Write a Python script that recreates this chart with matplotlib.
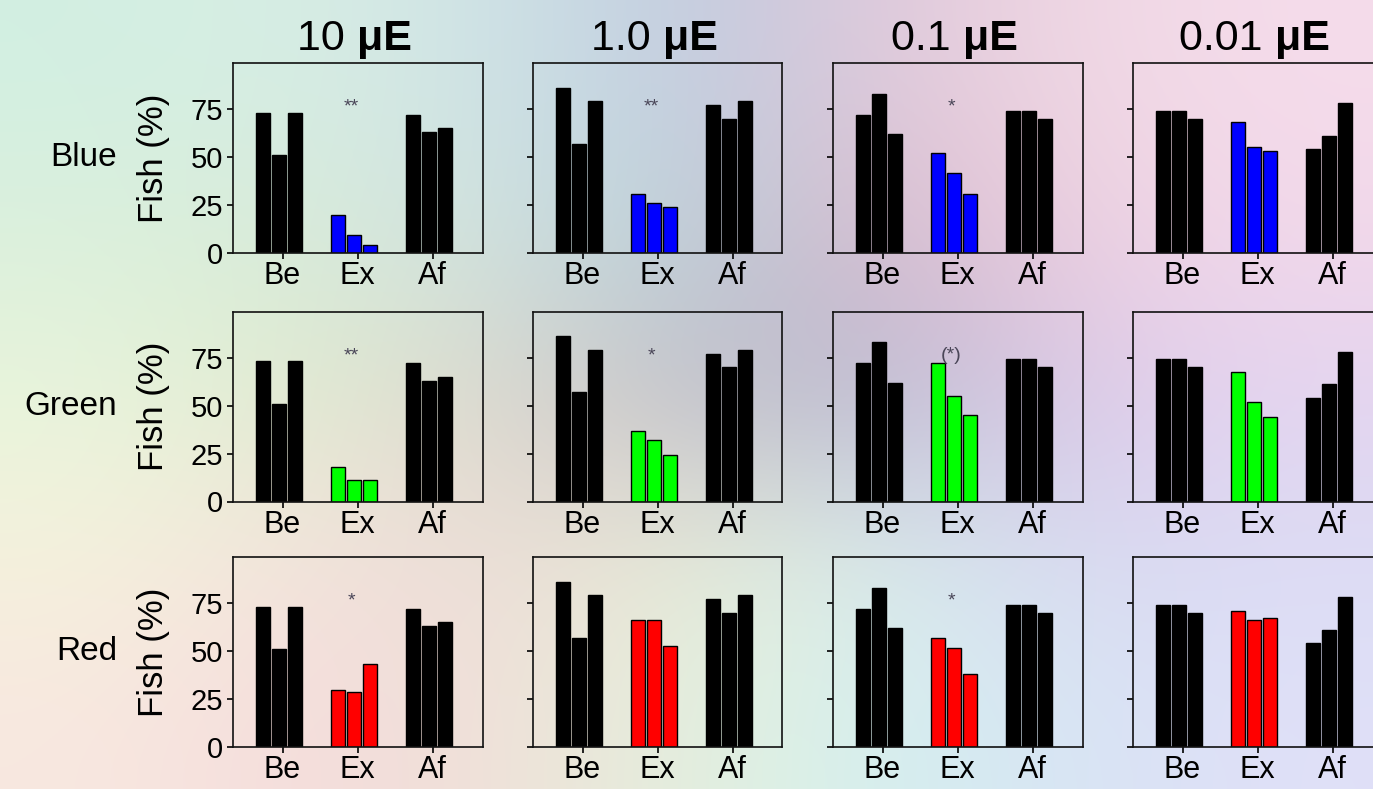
import numpy as np
import matplotlib
matplotlib.use("Agg")
import matplotlib.pyplot as plt
from matplotlib.colors import to_rgb

plt.rcParams['font.family'] = ['Liberation Sans', 'DejaVu Sans']

# Datos
intensidades = ['10', '1.0', '0.1', '0.01']
colores_luz = ['Blue', 'Green', 'Red']
relleno = ['#0000ff', '#00ff00', '#ff0000']
fases = ['Be', 'Ex', 'Af']

antes = [[73, 51, 73], [86, 57, 79], [72, 83, 62], [74, 74, 70]]
despues = [[72, 63, 65], [77, 70, 79], [74, 74, 70], [54, 61, 78]]

expuesto_azul = [[20, 9.5, 4], [31, 26, 24], [52, 41.5, 31], [68, 55, 53]]
expuesto_verde = [[18, 11, 11], [36.5, 32, 24], [72, 55, 45], [67.5, 52, 44]]
expuesto_rojo = [[29.5, 28.5, 43], [66, 66, 52.5], [57, 51.5, 38], [71, 66, 67]]
expuesto = [expuesto_azul, expuesto_verde, expuesto_rojo]

estrellas = [['**', '**', '*', ''],
             ['**', '*', '(*)', ''],
             ['*', '', '*', '']]

# fondo pastel (solo estilo)
fondo = [
    ['#d2efe2', '#d8eee4', '#cfe3e6', '#c0cce0', '#e0c8da', '#f0d8e4', '#f5dceb'],
    ['#dcf0dc', '#d8ebd8', '#d0e2e0', '#b8d0d8', '#d8b8cc', '#ecd0e0', '#f2d8ea'],
    ['#e8f5dc', '#e0ecd0', '#dcd8cc', '#c0bcc8', '#b8b8d0', '#dcc8e8', '#e4d4f0'],
    ['#f5f2dc', '#f4e4dc', '#ecdcd8', '#e8ecd4', '#d8ecec', '#d8d8f0', '#dcdcf4'],
    ['#f8e8e0', '#f5dcdc', '#f0e0d8', '#e4f0dc', '#d4f0f0', '#d8e4f4', '#e0e0f8'],
]

W, H = 1373, 789
fig = plt.figure(figsize=(W / 100, H / 100), dpi=100)

bg = fig.add_axes([0, 0, 1, 1], zorder=-10)
img = np.array([[to_rgb(c) for c in fila] for fila in fondo])
bg.imshow(img, aspect='auto', interpolation='bicubic', extent=[0, 1, 1, 0])
bg.set_xlim(0, 1)
bg.set_ylim(1, 0)
bg.axis('off')

desplaz = np.array([-0.26, -0.047, 0.17])
ancho = 0.185
bases = [253, 501.5, 747]

for r in range(3):
    for c in range(4):
        izq = 232.5 + 300 * c
        ax = fig.add_axes([izq / W, 1 - bases[r] / H, 250 / W, 190 / H])
        ax.set_facecolor('none')
        grupos = [antes[c], expuesto[r][c], despues[c]]
        cols = ['black', relleno[r], 'black']
        for g in range(3):
            ax.bar(g + desplaz, grupos[g], width=ancho, color=cols[g],
                   edgecolor='black', linewidth=1.0)
        ax.set_xlim(-2 / 3, 8 / 3)
        ax.set_ylim(0, 99)
        ax.set_xticks([0, 1, 2])
        ax.set_xticklabels(fases, fontsize=22)
        ax.set_yticks([0, 25, 50, 75])
        for s in ax.spines.values():
            s.set_linewidth(1.2)
            s.set_color('#111111')
        ax.tick_params(axis='y', direction='out', length=4.5, width=1.2, pad=2)
        ax.tick_params(axis='x', direction='out', length=4, width=1.2, pad=2)
        if c == 0:
            ax.set_yticklabels(['0', '25', '50', '75'], fontsize=21)
            ax.set_ylabel('Fish (%)', fontsize=25)
            ax.yaxis.set_label_coords(-0.25, 0.5)
            fig.text(117 / W, 1 - (bases[r] - 95) / H, colores_luz[r],
                     fontsize=24, ha='right', va='center')
        else:
            ax.set_yticklabels([])
        if estrellas[r][c]:
            ax.text(0.92, 76, estrellas[r][c], fontsize=14, color='#4a4658',
                    ha='center', va='center')

# titulos: numero normal + "μE" en negrita, centrados sobre cada columna
fig.canvas.draw()
rend = fig.canvas.get_renderer()
for c in range(4):
    centro = 232.5 + 300 * c + 122
    t1 = fig.text(0, 1 - 50 / H, intensidades[c] + ' ', fontsize=31, ha='left', va='baseline')
    t2 = fig.text(0, 1 - 50 / H, 'μE', fontsize=31, fontweight='bold', ha='left', va='baseline')
    w1 = t1.get_window_extent(rend).width
    w2 = t2.get_window_extent(rend).width
    x0 = centro - (w1 + w2) / 2
    t1.set_x(x0 / W)
    t2.set_x((x0 + w1) / W)

fig.savefig('out.png', dpi=100)
